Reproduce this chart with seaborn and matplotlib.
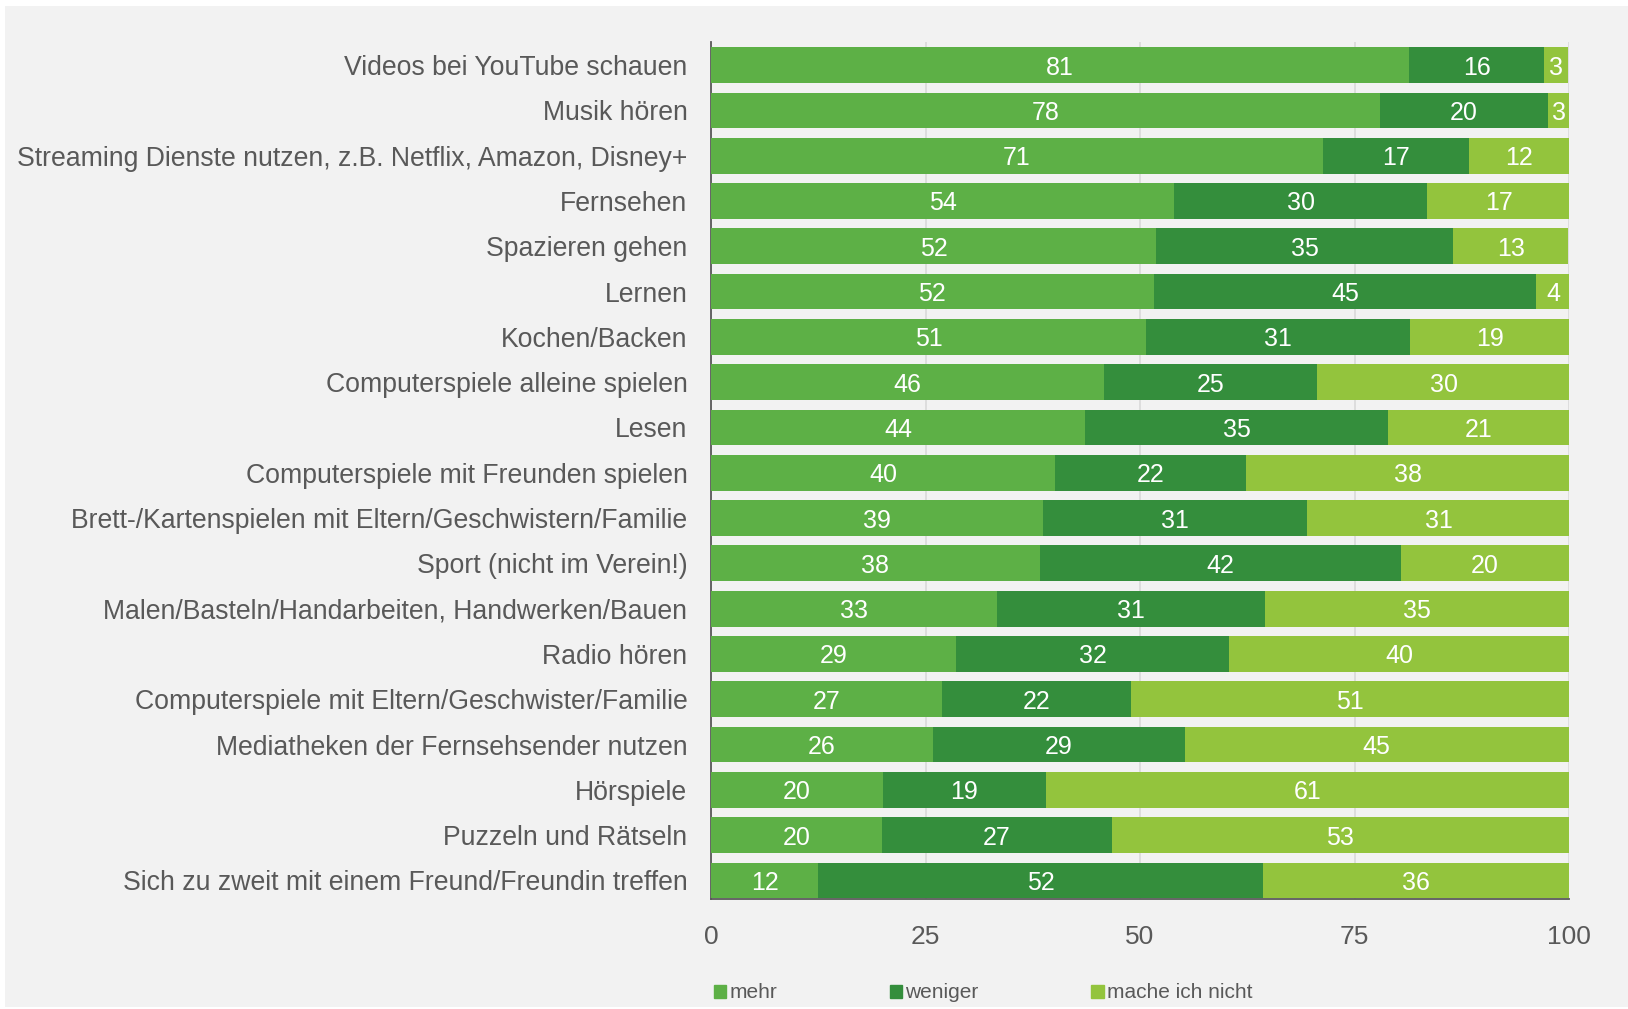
import numpy as np
import pandas as pd
import matplotlib
matplotlib.use('Agg')
import matplotlib.pyplot as plt
import matplotlib.patches as mpatches
import seaborn as sns

categories = [
    'Videos bei YouTube schauen',
    'Musik hören',
    'Streaming Dienste nutzen, z.B. Netflix, Amazon, Disney+',
    'Fernsehen',
    'Spazieren gehen',
    'Lernen',
    'Kochen/Backen',
    'Computerspiele alleine spielen',
    'Lesen',
    'Computerspiele mit Freunden spielen',
    'Brett-/Kartenspielen mit Eltern/Geschwistern/Familie',
    'Sport (nicht im Verein!)',
    'Malen/Basteln/Handarbeiten, Handwerken/Bauen',
    'Radio hören',
    'Computerspiele mit Eltern/Geschwister/Familie',
    'Mediatheken der Fernsehsender nutzen',
    'Hörspiele',
    'Puzzeln und Rätseln',
    'Sich zu zweit mit einem Freund/Freundin treffen',
]
# estimated segment widths (percent), labels show rounded values
mehr = [81.4, 78.0, 71.3, 54.0, 51.9, 51.6, 50.7, 45.8, 43.6, 40.1,
        38.7, 38.3, 33.3, 28.6, 26.9, 25.9, 20.0, 19.9, 12.5]
weniger = [15.7, 19.5, 17.0, 29.5, 34.6, 44.6, 30.8, 24.8, 35.3, 22.3,
           30.8, 42.1, 31.3, 31.8, 22.0, 29.3, 19.0, 26.8, 51.8]
nicht = [2.8, 2.6, 11.7, 16.6, 13.4, 3.9, 18.6, 29.6, 21.1, 37.7,
         30.6, 19.6, 35.4, 39.7, 51.1, 44.8, 61.0, 53.3, 35.7]
series = ['mehr', 'weniger', 'mache ich nicht']
colors = ['#5db046', '#348e3c', '#93c43d']
xticks = [0, 25, 50, 75, 100]

df = pd.DataFrame({'cat': categories, 'mehr': mehr, 'weniger': weniger, 'nicht': nicht})
df['c1'] = df['mehr']
df['c2'] = df['mehr'] + df['weniger']
df['c3'] = df['c2'] + df['nicht']

sns.set_theme(style='white')
plt.rcParams['font.family'] = ['Liberation Sans', 'DejaVu Sans']
text_col = '#595959'

fig = plt.figure(figsize=(16.28, 10.09), dpi=100, facecolor='white')
fig.patches.append(mpatches.Rectangle((5 / 1628, 2 / 1009), 1, 1 - 8 / 1009,
                                      transform=fig.transFigure, facecolor='#f2f2f2',
                                      edgecolor='none', zorder=-10))
ax = fig.add_axes([711 / 1628, 1 - 899 / 1009, (1569 - 711) / 1628, (899 - 42) / 1009])
ax.set_facecolor('#f2f2f2')

# stacked bars drawn as overlapping cumulative totals
for col, color in zip(['c3', 'c2', 'c1'], colors[::-1]):
    sns.barplot(data=df, x=col, y='cat', orient='h', color=color, saturation=1,
                width=0.79, linewidth=0, ax=ax, zorder=3)

for i, row in df.iterrows():
    starts = [0, row['c1'], row['c2']]
    for s, v in zip(starts, [row['mehr'], row['weniger'], row['nicht']]):
        ax.text(s + v / 2, i, f'{v:.0f}', ha='center', va='center_baseline',
                color='white', fontsize=18, zorder=5)

ax.set_xlim(0, 100)
ax.set_ylim(len(categories) - 1 + 0.41, -0.51)
ax.set_xticks(xticks)
ax.set_xticklabels([str(t) for t in xticks])
ax.xaxis.grid(True, color='#d9d9d9', linewidth=1.2, zorder=0)
ax.set_axisbelow(True)
ax.tick_params(axis='both', length=0, labelsize=19, labelcolor=text_col)
ax.tick_params(axis='y', labelsize=19.2, pad=17)
ax.tick_params(axis='x', pad=19)
ax.set_xlabel('')
ax.set_ylabel('')
for side in ['top', 'right']:
    ax.spines[side].set_visible(False)
for side in ['left', 'bottom']:
    ax.spines[side].set_color('#595959')
    ax.spines[side].set_linewidth(1.3)

handles = [mpatches.Patch(color=c, label=s) for c, s in zip(colors, series)]
leg = fig.legend(handles=handles, loc='center left', bbox_to_anchor=(695 / 1628, 1 - 993 / 1009),
                 ncol=3, frameon=False, fontsize=15, handlelength=0.6, handleheight=0.6,
                 handletextpad=0.15, columnspacing=5.4, labelcolor=text_col)

fig.savefig('out.png', dpi=100, facecolor=fig.get_facecolor())
